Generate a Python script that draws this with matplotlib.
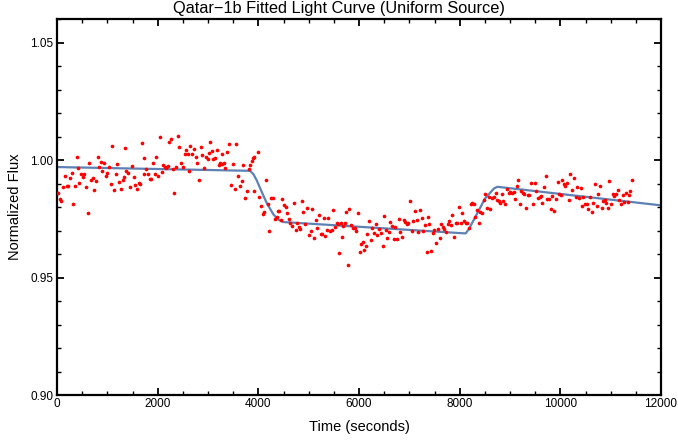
import matplotlib
matplotlib.use("Agg")
import matplotlib.pyplot as plt
from matplotlib.ticker import MultipleLocator, FixedLocator

plt.rcParams['font.family'] = ['Liberation Sans', 'DejaVu Sans']

# ---- observed data (time in s, normalized flux) ----
time = [
    13, 53, 86, 119, 159, 192, 225, 258, 291, 325, 364, 391, 424, 444, 477, 510, 543, 576, 609, 642,
    675, 708, 742, 775, 808, 841, 874, 901, 940, 967, 1000, 1033, 1066, 1099, 1132, 1165, 1199, 1238, 1271, 1305,
    1338, 1351, 1377, 1417, 1457, 1490, 1523, 1556, 1589, 1622, 1656, 1689, 1722, 1735, 1768, 1808, 1841, 1874, 1907, 1947,
    1973, 2013, 2046, 2079, 2112, 2139, 2172, 2199, 2232, 2265, 2298, 2331, 2358, 2397, 2430, 2464, 2503, 2536, 2570, 2603,
    2622, 2649, 2682, 2722, 2755, 2788, 2821, 2854, 2887, 2920,
    2960, 2993, 3026, 3046, 3079, 3106, 3139, 3179, 3212, 3238, 3271, 3285, 3318, 3344, 3384, 3417, 3450, 3490, 3530, 3563,
    3596, 3636, 3669, 3702, 3735, 3768, 3808, 3834, 3868, 3887, 3907, 3921, 3987, 4020, 4053, 4086, 4119, 4159, 4185, 4219,
    4258, 4285, 4331, 4364, 4384, 4417, 4450, 4477, 4510, 4543, 4576, 4609, 4636, 4676, 4709, 4748, 4775, 4801, 4834, 4861,
    4894, 4934, 4967, 5007, 5040, 5073, 5106, 5139, 5172, 5205, 5239, 5265, 5298, 5325, 5358, 5391, 5424, 5457, 5490, 5523,
    5556, 5576, 5609, 5636, 5669, 5682, 5715, 5748, 5782, 5808,
    5841, 5881, 5914, 5947, 5980, 6013, 6040, 6073, 6100, 6133, 6166, 6199, 6232, 6265, 6298, 6331, 6364, 6404, 6437, 6470,
    6503, 6537, 6556, 6590, 6623, 6656, 6689, 6722, 6762, 6795, 6821, 6861, 6888, 6914, 6947, 6974, 7013, 7047, 7080, 7113,
    7146, 7179, 7212, 7245, 7278, 7312, 7345, 7378, 7398, 7431, 7464, 7497, 7530, 7563, 7603, 7636, 7669, 7696, 7729, 7762,
    7788, 7822, 7855, 7888, 7921, 7954, 7987, 8020, 8053, 8086, 8120, 8153, 8186, 8219, 8252, 8285, 8305, 8345, 8378, 8411,
    8444, 8477, 8510, 8543, 8577, 8610, 8643, 8682,
    8722, 8749, 8775, 8808, 8835, 8868, 8901, 8934, 8974, 9007, 9040, 9073, 9100, 9133, 9159, 9192, 9219, 9252, 9285, 9318,
    9351, 9385, 9424, 9457, 9490, 9524, 9563, 9590, 9610, 9643, 9676, 9709, 9742, 9775, 9808, 9842, 9875, 9914, 9947, 9981,
    10014, 10034, 10067, 10100, 10133, 10166, 10199, 10239, 10265, 10305, 10338, 10371, 10404, 10438, 10457, 10491, 10524, 10557, 10590, 10623,
    10656, 10689, 10722, 10755, 10789, 10822, 10855, 10881, 10908, 10941, 10974, 11007, 11040, 11073, 11107, 11140, 11173, 11206, 11239, 11272,
    11312, 11338, 11358, 11391, 11431,
]
flux = [
    0.9861, 0.9836, 0.9826, 0.9883, 0.9931, 0.9889, 0.9890, 0.9924, 0.9946, 0.9814, 0.9891, 1.0011, 0.9964, 0.9901, 0.9939, 0.9929, 0.9939, 0.9887, 0.9774, 0.9986,
    0.9913, 0.9924, 0.9873, 0.9909, 1.0011, 0.9969, 0.9993, 0.9954, 0.9986, 0.9931, 0.9943, 0.9969, 0.9899, 1.0061, 0.9874, 0.9939, 0.9981, 0.9906, 0.9877, 0.9913,
    0.9926, 1.0051, 0.9953, 0.9944, 0.9887, 0.9974, 0.9929, 0.9894, 0.9877, 0.9901, 0.9899, 1.0073, 1.0007, 0.9939, 0.9963, 0.9941, 0.9920, 0.9920, 0.9986, 0.9941,
    1.0014, 0.9934, 1.0099, 0.9949, 0.9979, 0.9969, 0.9964, 0.9973, 1.0077, 1.0089, 0.9963, 0.9861, 0.9970, 1.0103, 1.0054, 0.9986, 0.9971, 1.0026, 1.0044, 1.0026,
    0.9953, 1.0061, 1.0026, 1.0047, 1.0014, 0.9989, 0.9917, 1.0057, 1.0023, 0.9964,
    1.0013, 1.0004, 1.0031, 1.0077, 1.0037, 1.0004, 1.0009, 1.0041, 0.9979, 0.9987, 0.9984, 1.0027, 0.9986, 0.9964, 1.0033, 1.0070, 0.9894, 0.9983, 0.9877, 1.0066,
    0.9934, 0.9889, 0.9909, 0.9979, 0.9840, 0.9866, 0.9961, 0.9980, 0.9994, 1.0009, 1.0011, 0.9869, 1.0034, 0.9844, 0.9804, 0.9772, 0.9779, 0.9913, 0.9812, 0.9696,
    0.9840, 0.9837, 0.9750, 0.9757, 0.9783, 0.9783, 0.9746, 0.9833, 0.9807, 0.9800, 0.9774, 0.9750, 0.9732, 0.9719, 0.9817, 0.9703, 0.9733, 0.9714, 0.9706, 0.9824,
    0.9779, 0.9726, 0.9796, 0.9680, 0.9696, 0.9792, 0.9669, 0.9743, 0.9709, 0.9764, 0.9684, 0.9684, 0.9753, 0.9677, 0.9703, 0.9753, 0.9697, 0.9703, 0.9789, 0.9717,
    0.9732, 0.9726, 0.9603, 0.9732, 0.9672, 0.9719, 0.9730, 0.9777, 0.9552, 0.9793,
    0.9724, 0.9710, 0.9710, 0.9699, 0.9774, 0.9607, 0.9643, 0.9650, 0.9617, 0.9632, 0.9686, 0.9742, 0.9660, 0.9710, 0.9689, 0.9729, 0.9679, 0.9707, 0.9689, 0.9636,
    0.9762, 0.9703, 0.9669, 0.9694, 0.9737, 0.9719, 0.9662, 0.9716, 0.9664, 0.9749, 0.9693, 0.9672, 0.9744, 0.9736, 0.9726, 0.9733, 0.9826, 0.9700, 0.9742, 0.9782,
    0.9744, 0.9692, 0.9786, 0.9753, 0.9697, 0.9724, 0.9607, 0.9757, 0.9726, 0.9614, 0.9689, 0.9704, 0.9647, 0.9707, 0.9666, 0.9729, 0.9717, 0.9706, 0.9692, 0.9729,
    0.9740, 0.9723, 0.9764, 0.9672, 0.9732, 0.9733, 0.9802, 0.9732, 0.9774, 0.9739, 0.9734, 0.9734, 0.9709, 0.9814, 0.9817, 0.9814, 0.9756, 0.9789, 0.9730, 0.9777,
    0.9774, 0.9831, 0.9854, 0.9796, 0.9844, 0.9793, 0.9837, 0.9843,
    0.9861, 0.9829, 0.9826, 0.9817, 0.9856, 0.9826, 0.9812, 0.9876, 0.9861, 0.9864, 0.9861, 0.9863, 0.9836, 0.9890, 0.9917, 0.9814, 0.9870, 0.9859, 0.9857, 0.9797,
    0.9851, 0.9851, 0.9901, 0.9814, 0.9901, 0.9869, 0.9837, 0.9843, 0.9847, 0.9816, 0.9884, 0.9931, 0.9833, 0.9833, 0.9793, 0.9847, 0.9782, 0.9833, 0.9906, 0.9854,
    0.9851, 0.9913, 0.9899, 0.9889, 0.9901, 0.9830, 0.9941, 0.9873, 0.9923, 0.9841, 0.9887, 0.9839, 0.9881, 0.9803, 0.9844, 0.9814, 0.9814, 0.9792, 0.9843, 0.9780,
    0.9819, 0.9896, 0.9803, 0.9854, 0.9891, 0.9796, 0.9824, 0.9831, 0.9819, 0.9794, 0.9910, 0.9812, 0.9854, 0.9846, 0.9856, 0.9873, 0.9831, 0.9812, 0.9849, 0.9823,
    0.9861, 0.9821, 0.9853, 0.9870, 0.9917,
]

# ---- fitted model (uniform source) ----
fit_time = [0, 3834, 3901, 3967, 4033, 4166, 4298, 4397, 4497, 8086, 8120, 8186, 8504, 8682, 8749, 12000]
fit_flux = [0.9970, 0.9954, 0.9940, 0.9914, 0.9881, 0.9817, 0.9769, 0.9746, 0.9736, 0.9688, 0.9688, 0.9707, 0.9836, 0.9879, 0.9886, 0.9807]

x_ticks = [0, 2000, 4000, 6000, 8000, 10000, 12000]
y_ticks = [0.90, 0.95, 1.00, 1.05]
y_tick_labels = ["0.90", "0.95", "1.00", "1.05"]

fig = plt.figure(figsize=(6.78, 4.42), dpi=100)
ax = fig.add_axes([57 / 678, 1 - 395 / 442, (661 - 57) / 678, (395 - 19) / 442])

ax.scatter(time, flux, s=7, color='#ff0000', linewidths=0, zorder=3)
ax.plot(fit_time, fit_flux, color='#5e81b5', lw=1.6, zorder=2, solid_joinstyle='round')

ax.set_xlim(0, 12000)
ax.set_ylim(0.90, 1.06)
ax.xaxis.set_major_locator(FixedLocator(x_ticks))
ax.xaxis.set_minor_locator(MultipleLocator(500))
ax.yaxis.set_major_locator(FixedLocator(y_ticks))
ax.set_yticklabels(y_tick_labels)
ax.yaxis.set_minor_locator(MultipleLocator(0.01))

ax.tick_params(which='both', direction='in', top=True, right=True, labelsize=8.5, pad=2.5, width=1)
ax.tick_params(which='major', length=5, width=1.3)
ax.tick_params(which='minor', length=3)
for sp in ax.spines.values():
    sp.set_linewidth(1.6)

fig.text(0.5, 1 - 8.5 / 442, "Qatar\u22121b Fitted Light Curve (Uniform Source)",
         fontsize=11.8, ha='center', va='center')
ax.set_xlabel("Time (seconds)", fontsize=10.5, labelpad=7)
ax.set_ylabel("Normalized Flux", fontsize=10.5, labelpad=6)

fig.savefig("out.png", dpi=100)
